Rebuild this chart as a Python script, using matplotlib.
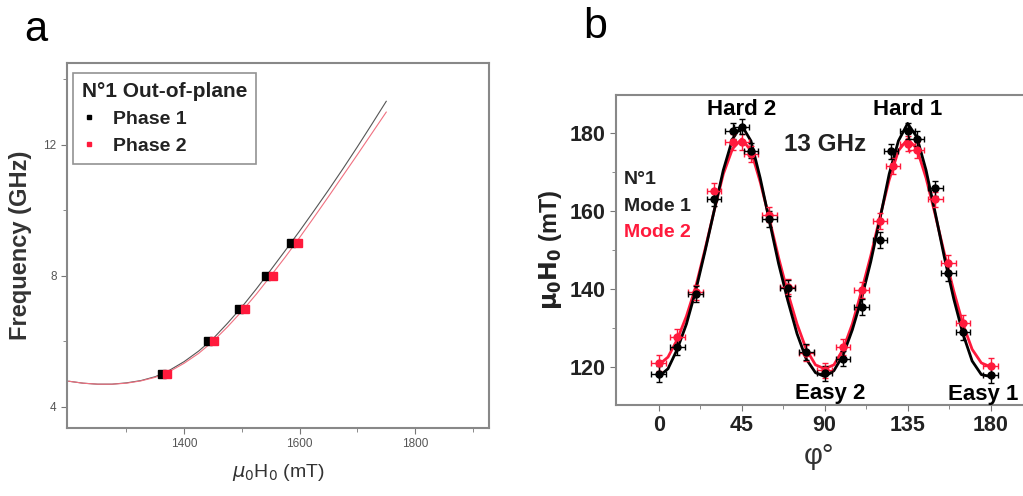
import numpy as np
import matplotlib
import matplotlib.pyplot as plt

matplotlib.use('agg')
plt.rcParams['font.family'] = ['Liberation Sans', 'DejaVu Sans']

# panel a: out-of-plane frequency vs field
field_p1 = [1362, 1442, 1495, 1541, 1585]
freq_p1 = [5, 6, 7, 8, 9]
field_p2 = [1370, 1451, 1505, 1553, 1597]
freq_p2 = [5, 6, 7, 8, 9]

fit_field = [1200, 1225, 1250, 1275, 1300, 1325, 1350, 1375, 1400, 1425, 1450, 1475,
             1500, 1525, 1550, 1575, 1600, 1625, 1650, 1675, 1700, 1725, 1750]
fit_f1 = [4.78, 4.72, 4.69, 4.69, 4.73, 4.80, 4.92, 5.12, 5.38, 5.70, 6.08, 6.55,
          7.05, 7.60, 8.18, 8.77, 9.37, 9.99, 10.62, 11.27, 11.94, 12.63, 13.33]
fit_f2 = [4.78, 4.72, 4.69, 4.69, 4.72, 4.79, 4.90, 5.08, 5.33, 5.63, 6.00, 6.44,
          6.92, 7.44, 8.00, 8.57, 9.17, 9.79, 10.42, 11.06, 11.70, 12.35, 13.00]

# panel b: resonance field vs in-plane angle at 13 GHz
phi_m1 = [0, 10, 20, 30, 40, 45, 50, 60, 70, 80, 90, 100, 110, 120, 126, 135, 140, 150, 157, 165, 180]
h_m1 = [118.2, 125.1, 138.7, 163.2, 180.5, 181.7, 175.5, 157.9, 140.3, 123.8, 118.3, 122.1,
        135.3, 152.5, 175.3, 180.6, 178.6, 165.8, 144.0, 129.0, 117.9]
phi_m2 = [0, 10, 20, 30, 40, 45, 50, 60, 70, 80, 90, 100, 110, 120, 127, 135, 140, 150, 157, 165, 180]
h_m2 = [121.0, 127.7, 139.1, 165.1, 177.8, 177.8, 174.6, 159.1, 140.6, 123.6, 119.1, 125.1,
        139.7, 157.4, 171.5, 177.3, 175.6, 163.0, 146.6, 131.2, 120.2]

fit_phi = list(range(0, 185, 5))
fit_h1 = [117.5, 119.5, 124.5, 131, 139.5, 149.5, 160, 170.5, 178.5, 182, 178, 168.5, 157.5,
          146.5, 137, 128.5, 122, 118.5, 117.5, 119, 123, 129.5, 137.5, 147, 158, 169.5,
          178, 182.5, 179, 170.5, 159.5, 148, 137.5, 128.5, 121.5, 118, 117.5]
fit_h2 = [120.5, 122.5, 127, 133, 140.5, 150, 160, 169.5, 176, 178.5, 175.5, 167.5, 158,
          148, 139, 131, 124.5, 120.5, 119.5, 120.5, 124.5, 131, 139.5, 148.5, 158.5, 168,
          175.5, 178.5, 176, 168.5, 159, 149, 139.5, 131, 124.5, 121, 120]

red = '#ff1a3c'
fig = plt.figure(figsize=(10.23, 4.96), dpi=100)

# ---- panel a ----
ax1 = fig.add_axes([0.0655, 0.137, 0.4125, 0.736])
ax1.plot(fit_field, fit_f1, color='#555555', lw=0.8)
ax1.plot(fit_field, fit_f2, color='#f07080', lw=0.8)
ax1.plot(field_p1, freq_p1, 's', color='black', ms=6, label='Phase 1', zorder=3)
ax1.plot(field_p2, freq_p2, 's', color=red, ms=6, label='Phase 2', zorder=3)
ax1.set_xlim(1197, 1928)
ax1.set_ylim(3.35, 14.5)
ax1.set_xticks([1400, 1600, 1800])
ax1.set_xticks([1300, 1500, 1700, 1900], minor=True)
ax1.set_yticks([4, 8, 12])
ax1.set_yticks([6, 10, 14], minor=True)
ax1.tick_params(labelsize=8.5, labelcolor='#555555', color='#777777', length=4)
ax1.tick_params(which='minor', color='#777777', length=3)
for s in ax1.spines.values():
    s.set_color('#888888')
    s.set_linewidth(1.5)
ax1.set_xlabel(r'$\mu_0$H$_0$ (mT)', fontsize=14, color='#333333', labelpad=8)
ax1.set_ylabel('Frequency (GHz)', fontsize=17, fontweight='bold', color='#333333', labelpad=8)
leg = ax1.legend(loc='upper left', title='N°1 Out-of-plane', fontsize=14, markerscale=0.5,
                 frameon=True, fancybox=False, edgecolor='#777777', handlelength=0.8,
                 handletextpad=0.8, borderpad=0.45, labelspacing=0.5, borderaxespad=0,
                 bbox_to_anchor=(0.014, 0.973))
leg._legend_box.align = 'left'
leg.get_title().set_fontweight('bold')
leg.get_title().set_fontsize(15)
leg.get_title().set_color('#222222')
for t in leg.get_texts():
    t.set_fontweight('bold')
    t.set_color('#222222')
leg.get_frame().set_linewidth(1.2)
fig.text(0.035, 0.94, 'a', fontsize=30, ha='center', va='center')

# ---- panel b ----
ax2 = fig.add_axes([0.602, 0.1835, 0.398, 0.625])
ax2.plot(fit_phi, fit_h2, color=red, lw=2)
ax2.plot(fit_phi, fit_h1, color='black', lw=2)
ax2.errorbar(phi_m2, h_m2, xerr=4, yerr=2, fmt='o', color=red, ms=5, elinewidth=1,
             capsize=2, zorder=3)
ax2.errorbar(phi_m1, h_m1, xerr=4, yerr=2, fmt='o', color='black', ms=5, elinewidth=1,
             capsize=2, zorder=3)
ax2.set_xlim(-23.3, 197.6)
ax2.set_ylim(110.2, 189.8)
ax2.set_xticks([0, 45, 90, 135, 180])
ax2.set_xticks([22.5, 67.5, 112.5, 157.5], minor=True)
ax2.set_yticks([120, 140, 160, 180])
ax2.set_yticks([130, 150, 170], minor=True)
ax2.tick_params(labelsize=15.5, color='#777777', length=4)
ax2.tick_params(which='minor', color='#777777', length=3)
for lab in ax2.get_xticklabels() + ax2.get_yticklabels():
    lab.set_fontweight('bold')
    lab.set_color('#222222')
for s in ax2.spines.values():
    s.set_color('#888888')
    s.set_linewidth(1.5)
ax2.spines['right'].set_visible(False)
ax2.set_xlabel('φ°', fontsize=21, color='#333333', labelpad=4)
ax2.set_ylabel(r'$\mathbf{\mu_0H_0}$ (mT)', fontsize=17, fontweight='bold', color='#222222', labelpad=4)
ax2.text(45, 186, 'Hard 2', fontsize=16, fontweight='bold', ha='center', va='center')
ax2.text(135, 186, 'Hard 1', fontsize=16, fontweight='bold', ha='center', va='center')
ax2.text(93, 113.2, 'Easy 2', fontsize=16, fontweight='bold', ha='center', va='center')
ax2.text(176, 112.8, 'Easy 1', fontsize=16, fontweight='bold', ha='center', va='center')
ax2.text(90, 177, '13 GHz', fontsize=17.5, fontweight='bold', ha='center', va='center', color='#222222')
ax2.text(-19, 168, 'N°1', fontsize=14, fontweight='bold', ha='left', va='center', color='#222222')
ax2.text(-19, 161.2, 'Mode 1', fontsize=14, fontweight='bold', ha='left', va='center', color='#222222')
ax2.text(-19, 154.4, 'Mode 2', fontsize=14, fontweight='bold', ha='left', va='center', color=red)
fig.text(0.582, 0.945, 'b', fontsize=31, ha='center', va='center')

fig.savefig('out.png', dpi=100)
